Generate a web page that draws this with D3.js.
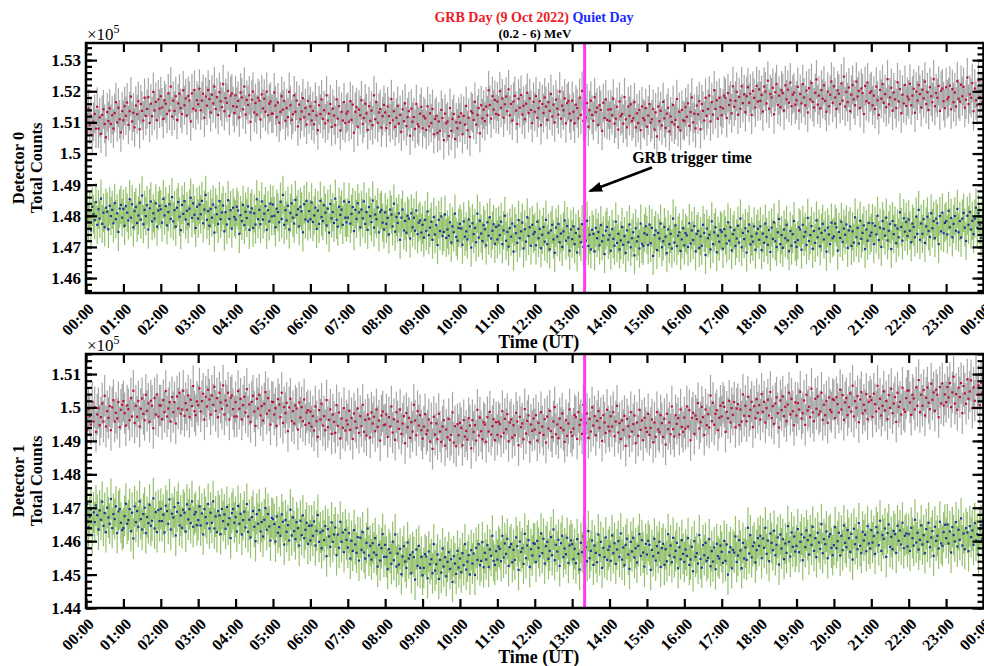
<!DOCTYPE html>
<html>
<head>
<meta charset="utf-8">
<script src="https://cdn.jsdelivr.net/npm/d3@7"></script>
<style>
  body { margin: 0; background: #fff; }
  svg text { font-family: "Liberation Serif", "Times New Roman", serif; font-weight: bold; }
</style>
</head>
<body>
<svg id="chart" width="984" height="666"></svg>
<script>
// Total counts in 2-minute bins over the UT day, stored as counts / 10.
// One row per hour (30 bins).
const det0Grb = [
15111,15068,15144,15091,15121,15059,15102,15127,15080,15150,15080,15116,15063,15124,15142,15095,15052,15133,15104,15145,15095,15123,15080,15130,15165,15100,15147,15110,15068,15136,
15107,15152,15121,15164,15092,15136,15183,15103,15131,15084,15154,15126,15168,15078,15159,15137,15106,15179,15121,15143,15181,15098,15160,15120,15198,15138,15166,15107,15174,15144,
15184,15148,15111,15171,15160,15127,15193,15138,15215,15119,15170,15137,15184,15108,15161,15192,15146,15127,15203,15155,15177,15122,15185,15170,15103,15193,15144,15204,15138,15171,
15158,15208,15139,15170,15192,15115,15183,15154,15204,15175,15132,15189,15161,15215,15143,15181,15124,15197,15168,15149,15223,15136,15178,15163,15201,15121,15186,15193,15152,15130,
15187,15150,15169,15116,15196,15180,15142,15215,15125,15172,15156,15187,15102,15173,15199,15132,15162,15125,15179,15170,15109,15190,15145,15176,15134,15199,15123,15160,15167,15128,
15128,15196,15154,15117,15164,15099,15134,15184,15141,15169,15105,15146,15117,15198,15155,15108,15126,15187,15134,15170,15087,15157,15110,15135,15178,15116,15146,15093,15169,15126,
15151,15106,15137,15094,15166,15122,15075,15155,15127,15174,15111,15139,15097,15187,15106,15128,15159,15086,15144,15122,15091,15174,15112,15152,15074,15134,15106,15165,15098,15128,
15135,15102,15168,15108,15157,15067,15134,15149,15086,15141,15123,15171,15095,15114,15160,15129,15076,15152,15105,15138,15091,15187,15110,15165,15099,15132,15143,15083,15120,15156,
15132,15082,15151,15120,15098,15175,15107,15136,15086,15115,15153,15096,15124,15070,15142,15104,15161,15088,15117,15136,15057,15144,15102,15117,15079,15159,15094,15087,15128,15150,
15081,15120,15113,15076,15152,15087,15129,15098,15143,15062,15111,15120,15066,15103,15073,15140,15114,15043,15128,15097,15103,15056,15146,15073,15111,15127,15047,15100,15081,15118,
15099,15129,15062,15121,15093,15153,15075,15115,15053,15136,15130,15108,15166,15093,15124,15146,15065,15155,15113,15141,15104,15151,15123,15203,15156,15112,15184,15141,15172,15127,
15167,15124,15200,15147,15177,15115,15158,15183,15136,15206,15123,15159,15106,15167,15185,15138,15095,15176,15147,15188,15125,15153,15110,15160,15195,15130,15177,15140,15098,15166,
15134,15184,15115,15146,15168,15091,15159,15130,15180,15151,15108,15165,15137,15191,15119,15157,15100,15173,15144,15125,15199,15112,15154,15139,15177,15097,15162,15169,15128,15106,
15170,15134,15097,15157,15146,15113,15179,15124,15201,15105,15148,15115,15162,15086,15139,15170,15124,15105,15181,15133,15147,15092,15155,15140,15073,15163,15114,15174,15108,15141,
15105,15142,15123,15176,15096,15112,15150,15077,15167,15120,15127,15096,15181,15110,15084,15151,15121,15158,15104,15113,15165,15084,15129,15098,15140,15075,15151,15114,15107,15146,
15086,15122,15159,15099,15110,15143,15077,15132,15055,15151,15104,15137,15090,15166,15113,15082,15128,15147,15071,15119,15101,15156,15093,15108,15175,15085,15134,15074,15140,15107,
15104,15149,15118,15161,15089,15133,15180,15100,15128,15081,15154,15126,15168,15078,15159,15137,15106,15179,15121,15143,15186,15103,15165,15125,15203,15143,15171,15112,15179,15149,
15123,15145,15186,15179,15114,15194,15156,15171,15129,15216,15150,15169,15198,15125,15182,15144,15216,15162,15190,15133,15184,15213,15163,15192,15124,15201,15179,15148,15217,15167,
15206,15169,15188,15135,15215,15199,15161,15234,15144,15191,15180,15211,15126,15197,15223,15156,15186,15149,15203,15194,15138,15219,15174,15205,15163,15228,15152,15189,15196,15157,
15171,15214,15138,15191,15161,15223,15180,15155,15202,15132,15210,15174,15227,15166,15148,15195,15238,15157,15186,15145,15204,15176,15219,15169,15134,15199,15152,15189,15231,15163,
15216,15180,15143,15203,15192,15159,15225,15170,15247,15151,15198,15165,15212,15136,15189,15220,15174,15155,15231,15183,15201,15146,15209,15194,15127,15217,15168,15228,15162,15195,
15200,15155,15186,15143,15215,15171,15124,15204,15176,15223,15163,15191,15149,15239,15158,15180,15211,15138,15196,15174,15146,15229,15167,15207,15129,15189,15161,15220,15153,15183,
15174,15224,15155,15186,15208,15131,15199,15170,15220,15191,15148,15205,15177,15231,15159,15197,15140,15213,15184,15165,15239,15152,15194,15179,15217,15137,15202,15209,15168,15146,
15213,15174,15181,15218,15142,15207,15165,15196,15151,15232,15176,15167,15221,15184,15214,15147,15173,15244,15159,15190,15179,15226,15136,15209,15171,15155,15235,15182,15201,15164
];
const det0Quiet = [
14796,14837,14780,14816,14753,14829,14805,14786,14844,14771,14821,14791,14855,14774,14810,14763,14826,14813,14757,14832,14799,14819,14776,14841,14789,14808,14748,14823,14835,14794,
14822,14768,14831,14810,14785,14853,14794,14837,14763,14815,14828,14777,14801,14842,14788,14865,14773,14819,14799,14834,14756,14824,14846,14782,14808,14791,14840,14765,14817,14832,
14821,14778,14854,14801,14831,14769,14812,14837,14790,14860,14782,14818,14765,14826,14844,14797,14754,14835,14806,14847,14788,14816,14773,14823,14858,14793,14840,14803,14761,14829,
14791,14836,14805,14848,14776,14820,14867,14787,14815,14768,14822,14794,14836,14746,14827,14805,14774,14847,14789,14811,14833,14750,14812,14772,14850,14790,14818,14759,14826,14796,
14788,14829,14817,14742,14802,14783,14835,14770,14813,14793,14830,14755,14811,14824,14761,14808,14772,14853,14789,14819,14773,14846,14788,14807,14831,14755,14818,14782,14839,14798,
14836,14800,14763,14823,14812,14779,14845,14790,14867,14771,14818,14785,14832,14756,14809,14840,14794,14775,14851,14803,14821,14766,14829,14814,14747,14837,14788,14848,14782,14815,
14789,14843,14780,14801,14826,14758,14817,14774,14848,14796,14783,14834,14810,14769,14823,14746,14838,14792,14812,14777,14855,14787,14765,14829,14803,14820,14771,14846,14794,14779,
14794,14844,14775,14806,14828,14751,14819,14790,14840,14811,14763,14820,14792,14846,14774,14812,14755,14828,14799,14780,14849,14762,14804,14789,14827,14747,14812,14819,14778,14756,
14811,14774,14793,14740,14820,14804,14766,14839,14749,14796,14777,14808,14723,14794,14820,14753,14783,14746,14800,14791,14727,14808,14763,14794,14752,14817,14741,14778,14785,14746,
14771,14730,14787,14751,14814,14738,14762,14781,14723,14796,14740,14770,14706,14787,14751,14798,14735,14748,14804,14729,14756,14736,14779,14714,14766,14747,14807,14732,14720,14761,
14774,14759,14707,14782,14733,14750,14724,14788,14766,14698,14776,14741,14761,14715,14807,14730,14784,14743,14719,14770,14757,14705,14779,14736,14795,14727,14752,14773,14710,14764,
14724,14769,14738,14781,14709,14753,14800,14720,14748,14701,14761,14733,14775,14685,14766,14744,14713,14786,14728,14750,14778,14695,14757,14717,14795,14735,14763,14704,14771,14741,
14748,14705,14781,14728,14758,14696,14739,14764,14717,14787,14709,14745,14692,14753,14771,14724,14681,14762,14733,14774,14715,14743,14700,14750,14785,14720,14767,14730,14688,14756,
14725,14766,14709,14745,14682,14758,14734,14715,14773,14700,14750,14720,14784,14703,14739,14692,14755,14742,14686,14761,14728,14748,14705,14770,14718,14737,14677,14752,14764,14723,
14738,14688,14757,14726,14704,14781,14713,14742,14692,14721,14764,14707,14735,14681,14753,14715,14772,14699,14728,14747,14673,14760,14718,14733,14695,14775,14710,14703,14744,14766,
14739,14706,14772,14712,14761,14671,14738,14753,14690,14745,14727,14775,14699,14718,14764,14733,14680,14756,14709,14742,14695,14791,14714,14769,14703,14736,14747,14687,14724,14760,
14705,14744,14737,14700,14776,14711,14753,14722,14767,14686,14742,14751,14697,14734,14704,14771,14745,14674,14759,14728,14739,14692,14782,14709,14747,14763,14683,14736,14717,14754,
14748,14694,14757,14736,14711,14779,14720,14763,14689,14741,14754,14703,14727,14768,14714,14791,14699,14745,14725,14760,14682,14750,14772,14708,14734,14717,14766,14691,14743,14758,
14723,14766,14690,14743,14713,14775,14732,14707,14754,14684,14762,14726,14779,14718,14700,14747,14790,14709,14738,14697,14756,14728,14771,14721,14686,14751,14704,14741,14783,14715,
14700,14722,14763,14756,14691,14771,14733,14748,14706,14793,14719,14738,14767,14694,14751,14713,14785,14731,14759,14702,14745,14774,14724,14753,14685,14762,14740,14709,14778,14728,
14734,14775,14763,14688,14748,14729,14781,14716,14759,14739,14772,14697,14753,14766,14703,14750,14714,14795,14731,14761,14711,14784,14726,14745,14769,14693,14756,14720,14777,14736,
14746,14776,14709,14768,14740,14800,14722,14762,14700,14783,14758,14736,14794,14721,14752,14774,14693,14783,14741,14769,14712,14759,14731,14811,14764,14720,14792,14749,14780,14735,
14788,14752,14715,14775,14764,14731,14797,14742,14819,14723,14775,14742,14789,14713,14766,14797,14751,14732,14808,14760,14783,14728,14791,14776,14709,14799,14750,14810,14744,14777,
14783,14740,14816,14763,14793,14731,14774,14799,14752,14822,14747,14783,14730,14791,14809,14762,14719,14800,14771,14812,14756,14784,14741,14791,14826,14761,14808,14771,14729,14797
];
const det1Grb = [
14986,14932,14995,14974,14949,15017,14958,15001,14927,14979,14998,14947,14971,15012,14958,15035,14943,14989,14969,15004,14932,15000,15022,14958,14984,14967,15016,14941,14993,15008,
15019,14983,14946,15006,14995,14962,15028,14973,15050,14954,15005,14972,15019,14943,14996,15027,14981,14962,15038,14990,15012,14957,15020,15005,14938,15028,14979,15039,14973,15006,
15006,14965,15022,14986,15049,14973,14997,15016,14958,15031,14986,15016,14952,15033,14997,15044,14981,14994,15050,14975,15013,14993,15036,14971,15023,15004,15064,14989,14977,15018,
15007,15057,14988,15019,15041,14964,15032,15003,15053,15024,14979,15036,15008,15062,14990,15028,14971,15044,15015,14996,15066,14979,15021,15006,15044,14964,15029,15036,14995,14973,
15016,14973,15049,14996,15026,14964,15007,15032,14985,15055,14973,15009,14956,15017,15035,14988,14945,15026,14997,15038,14976,15004,14961,15011,15046,14981,15028,14991,14949,15017,
15016,14979,14998,14945,15025,15009,14971,15044,14954,15001,14983,15014,14929,15000,15026,14959,14989,14952,15006,14997,14934,15015,14970,15001,14959,15024,14948,14985,14992,14953,
14988,14943,14974,14931,15003,14959,14912,14992,14964,15011,14946,14974,14932,15022,14941,14963,14994,14921,14979,14957,14924,15007,14945,14985,14907,14967,14939,14998,14931,14961,
14949,14990,14933,14969,14906,14982,14958,14939,14997,14924,14974,14944,15008,14927,14963,14916,14979,14966,14910,14985,14952,14972,14929,14994,14942,14961,14901,14976,14988,14947,
14949,14979,14912,14971,14943,15003,14925,14965,14903,14986,14958,14936,14994,14921,14952,14974,14893,14983,14941,14969,14909,14956,14928,15008,14961,14917,14989,14946,14977,14932,
14907,14943,14980,14920,14931,14964,14898,14953,14876,14972,14919,14952,14905,14981,14928,14897,14943,14962,14886,14934,14911,14966,14903,14918,14985,14895,14944,14884,14950,14917,
14954,14939,14887,14962,14913,14930,14904,14968,14946,14878,14962,14927,14947,14901,14993,14916,14970,14929,14905,14956,14949,14897,14971,14928,14987,14919,14944,14965,14902,14956,
14918,14957,14950,14913,14989,14924,14966,14935,14980,14899,14955,14964,14910,14947,14917,14984,14958,14887,14972,14941,14952,14905,14995,14922,14960,14976,14896,14949,14930,14967,
14934,14977,14901,14954,14924,14986,14943,14918,14965,14895,14973,14937,14990,14929,14911,14958,15001,14920,14949,14908,14967,14939,14982,14932,14897,14962,14915,14952,14994,14926,
14915,14937,14978,14971,14906,14986,14948,14963,14921,15008,14934,14953,14982,14909,14966,14928,15000,14946,14974,14917,14960,14989,14939,14968,14900,14977,14955,14924,14993,14943,
14929,14974,14943,14986,14914,14958,15005,14925,14953,14906,14961,14933,14975,14885,14966,14944,14913,14986,14928,14950,14976,14893,14955,14915,14993,14933,14961,14902,14969,14939,
14927,14981,14918,14939,14964,14896,14955,14912,14986,14934,14926,14977,14953,14912,14966,14889,14981,14935,14955,14920,15003,14935,14913,14977,14951,14968,14919,14994,14942,14927,
14970,14937,15003,14943,14992,14902,14969,14984,14921,14976,14965,15013,14937,14956,15002,14971,14918,14994,14947,14980,14940,15036,14959,15014,14948,14981,14992,14932,14969,15005,
14973,15014,15002,14927,14987,14968,15020,14955,14998,14978,15016,14941,14997,15010,14947,14994,14958,15039,14975,15005,14959,15032,14974,14993,15017,14941,15004,14968,15025,14984,
15007,14964,15040,14987,15017,14955,14998,15023,14976,15046,14968,15004,14951,15012,15030,14983,14940,15021,14992,15033,14974,15002,14959,15009,15044,14979,15026,14989,14947,15015,
14976,15013,14994,15047,14967,14983,15021,14948,15038,14991,15002,14971,15056,14985,14959,15026,14996,15033,14979,14988,15044,14963,15008,14977,15019,14954,15030,14993,14986,15025,
15022,14968,15031,15010,14985,15053,14994,15037,14963,15015,15028,14977,15001,15042,14988,15065,14973,15019,14999,15034,14956,15024,15046,14982,15008,14991,15040,14965,15017,15032,
15022,14972,15041,15010,14988,15065,14997,15026,14976,15005,15048,14991,15019,14965,15037,14999,15056,14983,15012,15031,14957,15044,15002,15017,14979,15059,14994,14987,15028,15050,
15051,15015,14978,15038,15027,14994,15060,15005,15082,14986,15038,15005,15052,14976,15029,15060,15014,14995,15071,15023,15045,14990,15053,15038,14971,15061,15012,15072,15006,15039,
15016,15061,15030,15073,15001,15045,15092,15012,15040,14993,15059,15031,15073,14983,15064,15042,15011,15084,15026,15048,15081,14998,15060,15020,15098,15038,15066,15007,15074,15044
];
const det1Quiet = [
14661,14711,14642,14673,14695,14618,14686,14657,14707,14678,14635,14692,14664,14718,14646,14684,14627,14700,14671,14652,14726,14639,14681,14666,14704,14624,14689,14696,14655,14633,
14639,14675,14712,14652,14663,14696,14630,14685,14608,14704,14657,14690,14643,14719,14666,14635,14681,14700,14624,14672,14654,14709,14646,14661,14728,14638,14687,14627,14693,14660,
14697,14660,14679,14626,14706,14690,14652,14725,14635,14682,14671,14702,14617,14688,14714,14647,14677,14640,14694,14685,14629,14710,14665,14696,14654,14719,14643,14680,14687,14648,
14663,14704,14647,14683,14620,14696,14672,14653,14711,14638,14685,14655,14719,14638,14674,14627,14690,14677,14621,14696,14660,14680,14637,14702,14650,14669,14609,14684,14696,14655,
14672,14629,14705,14652,14682,14620,14663,14688,14641,14711,14628,14664,14611,14672,14690,14643,14600,14681,14652,14693,14629,14657,14614,14664,14699,14634,14681,14644,14602,14670,
14666,14651,14599,14674,14625,14642,14616,14680,14658,14590,14663,14628,14648,14602,14694,14617,14671,14630,14606,14657,14639,14587,14661,14618,14677,14609,14634,14655,14592,14646,
14602,14647,14616,14659,14587,14631,14678,14598,14626,14579,14631,14603,14645,14555,14636,14614,14583,14656,14598,14620,14641,14558,14620,14580,14658,14598,14626,14567,14634,14604,
14581,14624,14548,14601,14571,14633,14590,14565,14612,14542,14610,14574,14627,14566,14548,14595,14638,14557,14586,14545,14594,14566,14609,14559,14524,14589,14542,14579,14621,14553,
14589,14553,14516,14576,14565,14532,14598,14543,14620,14524,14563,14530,14577,14501,14554,14585,14539,14520,14596,14548,14559,14504,14567,14552,14485,14575,14526,14586,14520,14553,
14498,14520,14561,14554,14489,14569,14531,14546,14504,14591,14512,14531,14560,14487,14544,14506,14578,14524,14552,14495,14538,14567,14517,14546,14478,14555,14533,14502,14571,14521,
14548,14507,14564,14528,14591,14515,14539,14558,14500,14573,14533,14563,14499,14580,14544,14591,14528,14541,14597,14522,14565,14545,14588,14523,14575,14556,14616,14541,14529,14570,
14545,14584,14577,14540,14616,14551,14593,14562,14607,14526,14582,14591,14537,14574,14544,14611,14585,14514,14599,14568,14579,14532,14622,14549,14587,14603,14523,14576,14557,14594,
14592,14538,14601,14580,14555,14623,14564,14607,14533,14585,14598,14547,14571,14612,14558,14635,14543,14589,14569,14604,14526,14594,14616,14552,14578,14561,14610,14535,14587,14602,
14591,14546,14577,14534,14606,14562,14515,14595,14567,14614,14554,14582,14540,14630,14549,14571,14602,14529,14587,14565,14537,14620,14558,14598,14520,14580,14552,14611,14544,14574,
14584,14541,14617,14564,14594,14532,14575,14600,14553,14623,14545,14581,14528,14589,14607,14560,14517,14598,14569,14610,14551,14579,14536,14586,14621,14556,14603,14566,14524,14592,
14560,14601,14589,14514,14574,14555,14607,14542,14585,14565,14598,14523,14579,14592,14529,14576,14540,14621,14557,14587,14537,14610,14552,14571,14595,14519,14582,14546,14603,14562,
14538,14575,14556,14609,14529,14545,14583,14510,14600,14553,14564,14533,14618,14547,14521,14588,14558,14595,14541,14550,14606,14525,14570,14539,14581,14516,14592,14555,14548,14587,
14568,14535,14601,14541,14590,14500,14567,14582,14519,14574,14566,14614,14538,14557,14603,14572,14519,14595,14548,14581,14544,14640,14563,14618,14552,14585,14596,14536,14573,14609,
14586,14616,14549,14608,14580,14640,14562,14602,14540,14623,14595,14573,14631,14558,14589,14611,14530,14620,14578,14606,14546,14593,14565,14645,14598,14554,14626,14583,14614,14569,
14586,14636,14567,14598,14620,14543,14611,14582,14632,14603,14560,14617,14589,14643,14571,14609,14552,14625,14596,14577,14651,14564,14606,14591,14629,14549,14614,14621,14580,14558,
14588,14642,14579,14600,14625,14557,14616,14573,14647,14595,14582,14633,14609,14568,14622,14545,14637,14591,14611,14576,14654,14586,14564,14628,14602,14619,14570,14645,14593,14578,
14633,14596,14615,14562,14642,14626,14588,14661,14571,14618,14607,14638,14553,14624,14650,14583,14613,14576,14630,14621,14565,14646,14601,14632,14590,14655,14579,14616,14623,14584,
14621,14571,14640,14609,14587,14664,14596,14625,14575,14604,14647,14590,14618,14564,14636,14598,14655,14582,14611,14630,14556,14643,14601,14616,14578,14658,14593,14586,14627,14649,
14609,14650,14593,14629,14566,14642,14618,14599,14657,14584,14634,14604,14668,14587,14623,14576,14639,14626,14570,14645,14612,14632,14589,14654,14602,14621,14561,14636,14648,14607
];

const binMinutes = 2;
const errSigma = 1.6;   // error bars span ±1.6 σ (Poisson)
const hourTicks = d3.range(0, 25);
const hourLabels = hourTicks.map(h => String(h % 24).padStart(2, "0") + ":00");
const det0Ticks = [1.46, 1.47, 1.48, 1.49, 1.50, 1.51, 1.52, 1.53];
const det1Ticks = [1.44, 1.45, 1.46, 1.47, 1.48, 1.49, 1.50, 1.51];
const triggerHour = 13 + 20 / 60;

const svg = d3.select("#chart");
const x = d3.scaleLinear().domain([0, 24]).range([86, 983.5]);

const colors = {
  grbBar: "#6a6a6a", grbDot: "#b8123a",
  quietBar: "#5a9f1c", quietDot: "#1b3796",
  trigger: "#ff3cf5"
};

const panels = [
  { name: "Detector 0", top: 43, bottom: 293, domain: [1.4552, 1.5355], ticks: det0Ticks,
    grb: det0Grb, quiet: det0Quiet },
  { name: "Detector 1", top: 354, bottom: 608, domain: [1.44, 1.516], ticks: det1Ticks,
    grb: det1Grb, quiet: det1Quiet }
];

const tickFmt = d => d3.format(".2f")(d).replace(/0$/, "").replace(/\.$/, "");

panels.forEach((p, pi) => {
  const y = d3.scaleLinear().domain(p.domain).range([p.bottom, p.top]);
  const g = svg.append("g");
  const clipId = "clip" + pi;
  svg.append("clipPath").attr("id", clipId).append("rect")
    .attr("x", x(0)).attr("y", p.top).attr("width", x(24) - x(0)).attr("height", p.bottom - p.top);

  const plot = g.append("g").attr("clip-path", `url(#${clipId})`);

  const series = [
    { values: p.grb, bar: colors.grbBar, dot: colors.grbDot, op: 0.6 },
    { values: p.quiet, bar: colors.quietBar, dot: colors.quietDot, op: 0.65 }
  ];
  series.forEach(s => {
    const pts = s.values.map((v, i) => {
      const counts = v * 10;
      const err = errSigma * Math.sqrt(counts);
      return { t: i * binMinutes / 60, v: counts / 1e5, lo: (counts - err) / 1e5, hi: (counts + err) / 1e5 };
    });
    plot.append("g").selectAll("line").data(pts).join("line")
      .attr("x1", d => x(d.t)).attr("x2", d => x(d.t))
      .attr("y1", d => y(d.lo)).attr("y2", d => y(d.hi))
      .attr("stroke", s.bar).attr("stroke-width", 1.2).attr("stroke-opacity", s.op);
    plot.append("g").selectAll("rect").data(pts).join("rect")
      .attr("x", d => x(d.t) - 1.1).attr("y", d => y(d.v) - 1.1)
      .attr("width", 2.2).attr("height", 2.2).attr("fill", s.dot);
  });

  // trigger marker
  g.append("line")
    .attr("x1", x(triggerHour)).attr("x2", x(triggerHour))
    .attr("y1", p.top).attr("y2", p.bottom)
    .attr("stroke", colors.trigger).attr("stroke-width", 3);

  // axes with inward ticks
  const minor = d3.range(Math.ceil(p.domain[0] * 500), Math.floor(p.domain[1] * 500) + 1).map(k => k / 500);
  const axStyle = sel => {
    sel.select(".domain").remove();
    sel.selectAll("line").attr("stroke", "#000").attr("stroke-width", 2.2);
  };
  g.append("g").attr("transform", `translate(${x(0)},0)`)
    .call(d3.axisLeft(y).tickValues(minor).tickSizeInner(-6).tickSizeOuter(0).tickFormat(""))
    .call(axStyle);
  g.append("g").attr("transform", `translate(${x(0)},0)`)
    .call(d3.axisLeft(y).tickValues(p.ticks).tickSizeInner(-11).tickSizeOuter(0).tickPadding(5).tickFormat(tickFmt))
    .call(axStyle)
    .call(sel => sel.selectAll("text").attr("font-size", 17).attr("fill", "#000")
      .style("font-family", '"Liberation Serif", serif').style("font-weight", "bold"));
  g.append("g").attr("transform", `translate(${x(24)},0)`)
    .call(d3.axisRight(y).tickValues(minor).tickSizeInner(-6).tickSizeOuter(0).tickFormat(""))
    .call(axStyle);
  g.append("g").attr("transform", `translate(${x(24)},0)`)
    .call(d3.axisRight(y).tickValues(p.ticks).tickSizeInner(-11).tickSizeOuter(0).tickFormat(""))
    .call(axStyle);
  g.append("g").attr("transform", `translate(0,${p.top})`)
    .call(d3.axisTop(x).tickValues(hourTicks).tickSizeInner(-9).tickSizeOuter(0).tickFormat(""))
    .call(axStyle);
  g.append("g").attr("transform", `translate(0,${p.bottom})`)
    .call(d3.axisBottom(x).tickValues(hourTicks).tickSizeInner(-9).tickSizeOuter(0).tickFormat(""))
    .call(axStyle);

  // frame
  g.append("rect")
    .attr("x", x(0)).attr("y", p.top).attr("width", x(24) - x(0)).attr("height", p.bottom - p.top)
    .attr("fill", "none").attr("stroke", "#000").attr("stroke-width", 2.5);

  // rotated hour labels
  g.append("g").selectAll("text").data(hourTicks).join("text")
    .attr("transform", d => `translate(${x(d) + 9},${p.bottom + 17}) rotate(-45)`)
    .attr("text-anchor", "end").attr("font-size", 16).attr("fill", "#000")
    .text((d, i) => hourLabels[i]);

  g.append("text").attr("x", (x(0) + x(24)) / 2 + 4).attr("y", p.bottom + 55)
    .attr("text-anchor", "middle").attr("font-size", 18).text("Time (UT)");

  // exponent
  const ex = g.append("text").attr("x", x(0) + 1).attr("y", p.top - 3)
    .attr("font-size", 17).style("font-weight", "normal");
  ex.append("tspan").text("\u00d710");
  ex.append("tspan").attr("dy", -7).attr("font-size", 12).text("5");

  // y title
  const cy = (p.top + p.bottom) / 2;
  g.append("text").attr("transform", `translate(24,${cy}) rotate(-90)`)
    .attr("text-anchor", "middle").attr("font-size", 16.5).text(p.name);
  g.append("text").attr("transform", `translate(42,${cy}) rotate(-90)`)
    .attr("text-anchor", "middle").attr("font-size", 16.5).text("Total Counts");
});

// title
const title = svg.append("text").attr("x", 534).attr("y", 22).attr("text-anchor", "middle").attr("font-size", 14);
title.append("tspan").attr("fill", "#ee1c25").text("GRB Day (9 Oct 2022) ");
title.append("tspan").attr("fill", "#1a2cff").text("Quiet Day");
svg.append("text").attr("x", 535).attr("y", 38).attr("text-anchor", "middle").attr("font-size", 13).text("(0.2 - 6) MeV");

// annotation
svg.append("defs").append("marker").attr("id", "head")
  .attr("markerUnits", "userSpaceOnUse").attr("viewBox", "0 0 14 10")
  .attr("markerWidth", 14).attr("markerHeight", 10).attr("refX", 12).attr("refY", 5)
  .attr("orient", "auto")
  .append("path").attr("d", "M0,0 L14,5 L0,10 Z").attr("fill", "#000");
svg.append("line").attr("x1", 652).attr("y1", 167.5).attr("x2", 590).attr("y2", 191)
  .attr("stroke", "#000").attr("stroke-width", 2.5).attr("marker-end", "url(#head)");
svg.append("text").attr("x", 692).attr("y", 163).attr("text-anchor", "middle").attr("font-size", 16)
  .text("GRB trigger time");
</script>
</body>
</html>
